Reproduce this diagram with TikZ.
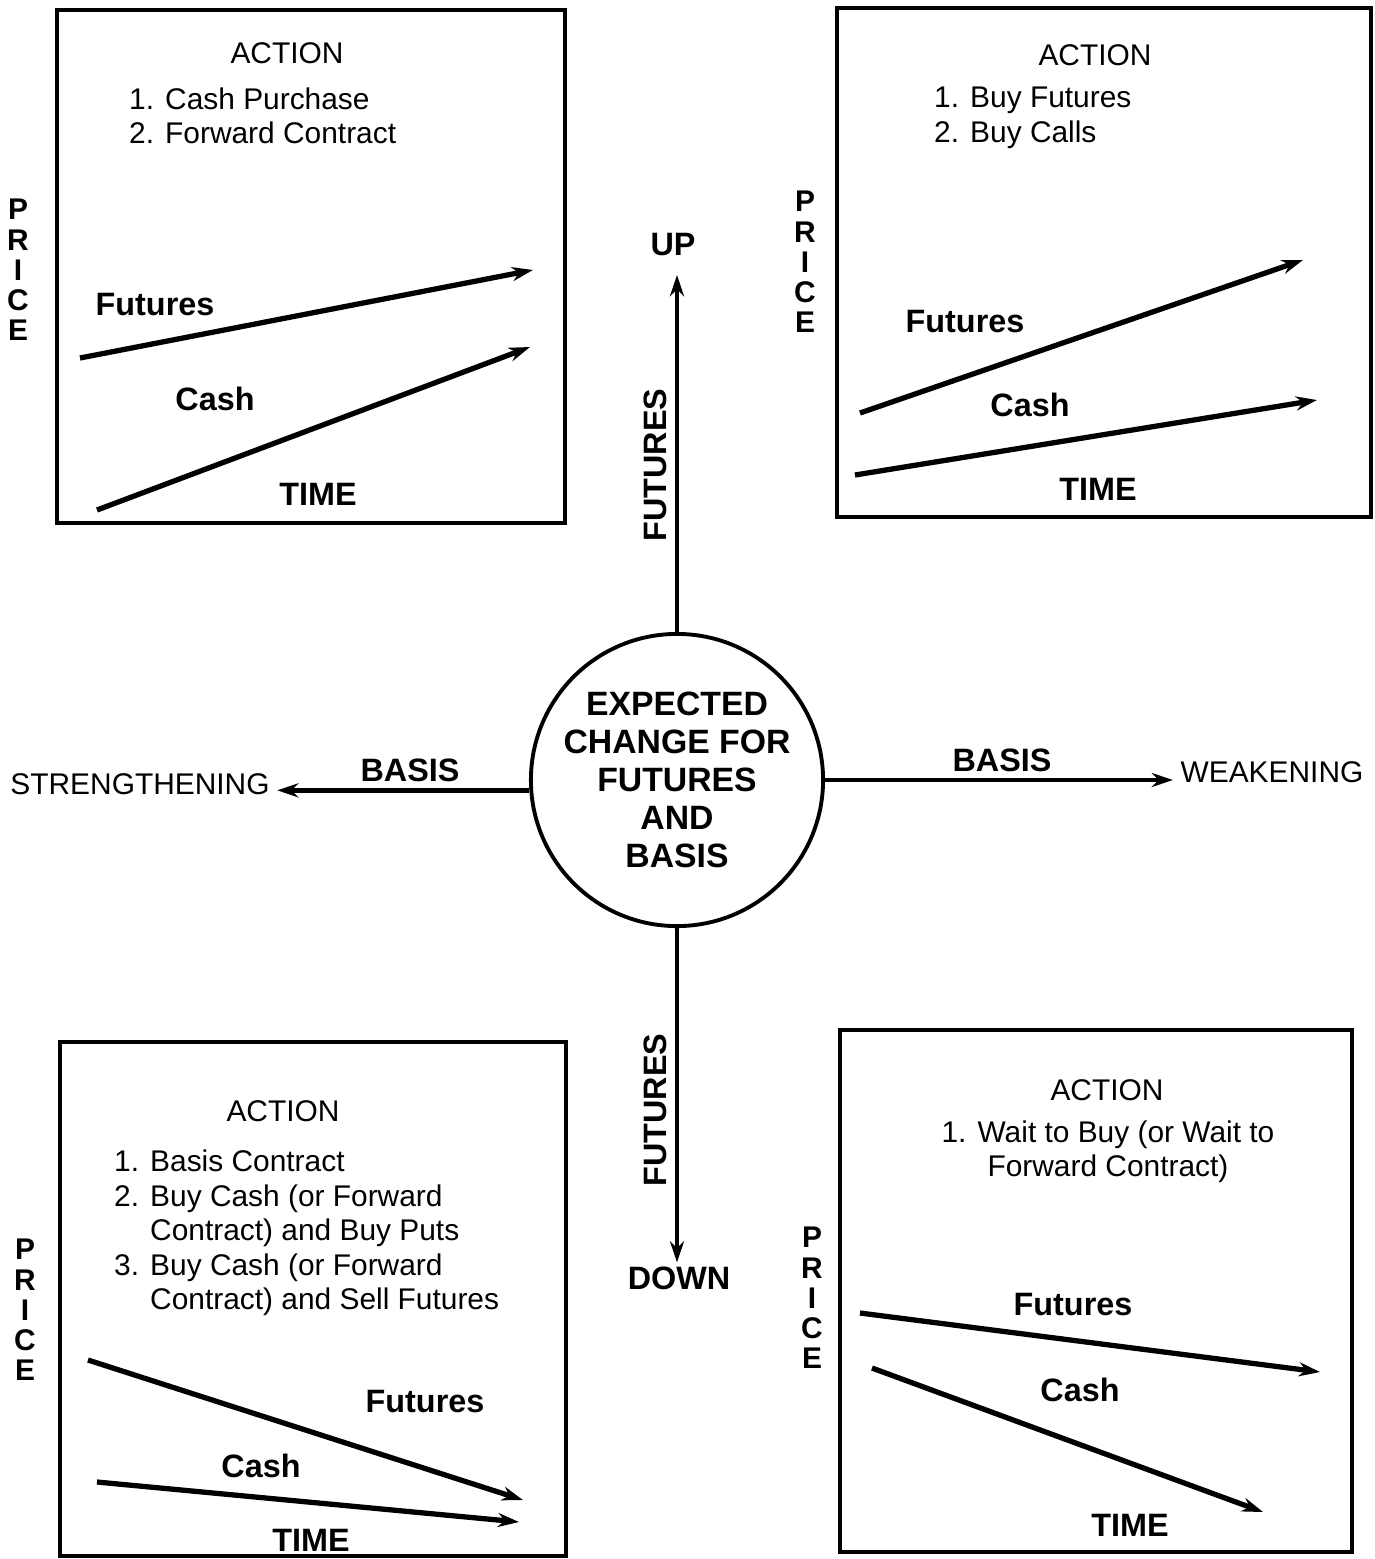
\documentclass[tikz,border=0pt]{standalone}
\usepackage{fontspec}
\setmainfont{Liberation Sans}
\usetikzlibrary{positioning,arrows.meta}

\begin{document}
\begin{tikzpicture}[
  x=0.01cm,
  y=-0.01cm,
  font=\fontsize{8.5}{9.8}\selectfont,
  panel/.style={draw, line width=1.1pt},
  hdr/.style={inner sep=1pt},
  list/.style={align=left, inner sep=1pt},
  lbl/.style={font=\fontsize{9.2}{11}\selectfont\bfseries, inner sep=1pt},
  price/.style={font=\fontsize{8.5}{8.6}\selectfont\bfseries, align=center, inner sep=1pt},
  hub/.style={circle, draw, line width=1.1pt, minimum size=2.92cm, inner sep=0pt, align=center,
    font=\fontsize{9.6}{10.8}\selectfont\bfseries},
  trend/.style={-{Stealth[length=6pt,width=4pt]}, line width=1.5pt},
  arr/.style={-{Stealth[length=6pt,width=4pt]}, line width=1.3pt}
]
\useasboundingbox (0,0) rectangle (1375,1559);

% four panels
\draw[panel] (57,10) rectangle (565,523);
\draw[panel] (837,8) rectangle (1371,517);
\draw[panel] (60,1042) rectangle (566,1556);
\draw[panel] (840,1030) rectangle (1352,1552);

% centre and axes
\node[hub] (hub) at (677,780) {EXPECTED\\CHANGE FOR\\FUTURES\\AND\\BASIS};

\node[lbl] (up) at (673,245) {UP};
\node[lbl] (down) at (679,1278) {DOWN};
\node[inner sep=2pt] (strength) at (140,784) {STRENGTHENING};
\node[inner sep=2pt] (weak) at (1272,772) {WEAKENING};

\draw[arr] (hub.north) -- (hub.north |- 0,275);
\draw[arr] (hub.south) -- (hub.south |- down.north);
\draw[arr] (hub.184) -- (hub.184 -| strength.east);
\draw[arr] (hub.east) -- (hub.east -| weak.west);

\node[lbl, rotate=90] (futUp) at (655,465) {FUTURES};
\node[lbl, rotate=90] (futDown) at (655,1110) {FUTURES};
\node[lbl] (basisL) at (410,770) {BASIS};
\node[lbl] (basisR) at (1002,760) {BASIS};

% upper left: futures up, basis strengthening
\node[hdr] (actTL) at (287,53) {ACTION};
\node[list, anchor=west] (listTL) at (125,116) {1. Cash Purchase\\2. Forward Contract};
\node[price] (priceTL) at (18,270) {P\\R\\I\\C\\E};
\coordinate (tlF1) at (80,358);
\coordinate (tlF2) at (533,270);
\coordinate (tlC1) at (97,510);
\coordinate (tlC2) at (530,347);
\draw[trend] (tlF1) -- (tlF2);
\draw[trend] (tlC1) -- (tlC2);
\node[lbl] (futTL) at (155,305) {Futures};
\node[lbl] (cashTL) at (215,399) {Cash};
\node[lbl] (timeTL) at (318,494) {TIME};

% upper right: futures up, basis weakening
\node[hdr] (actTR) at (1095,55) {ACTION};
\node[list, anchor=west] (listTR) at (930,118) {1. Buy Futures\\2. Buy Calls};
\node[price] (priceTR) at (805,262) {P\\R\\I\\C\\E};
\coordinate (trF1) at (860,413);
\coordinate (trF2) at (1303,260);
\coordinate (trC1) at (855,475);
\coordinate (trC2) at (1317,400);
\draw[trend] (trF1) -- (trF2);
\draw[trend] (trC1) -- (trC2);
\node[lbl] (futTR) at (965,322) {Futures};
\node[lbl] (cashTR) at (1030,405) {Cash};
\node[lbl] (timeTR) at (1098,489) {TIME};

% lower left: futures down, basis strengthening
\node[hdr] (actBL) at (283,1111) {ACTION};
\node[list, anchor=north west] (listBL) at (110,1146) {1. Basis Contract\\2. Buy Cash (or Forward\\\phantom{2. }Contract) and Buy Puts\\3. Buy Cash (or Forward\\\phantom{3. }Contract) and Sell Futures};
\node[price] (priceBL) at (25,1310) {P\\R\\I\\C\\E};
\coordinate (blF1) at (88,1360);
\coordinate (blF2) at (523,1500);
\coordinate (blC1) at (97,1482);
\coordinate (blC2) at (519,1522);
\draw[trend] (blF1) -- (blF2);
\draw[trend] (blC1) -- (blC2);
\node[lbl] (futBL) at (425,1402) {Futures};
\node[lbl] (cashBL) at (261,1466) {Cash};
\node[lbl] (timeBL) at (311,1540) {TIME};

% lower right: futures down, basis weakening
\node[hdr] (actBR) at (1107,1090) {ACTION};
\node[list, align=center] (listBR) at (1108,1152) {1. Wait to Buy (or Wait to\\Forward Contract)};
\node[price] (priceBR) at (812,1298) {P\\R\\I\\C\\E};
\coordinate (brF1) at (860,1313);
\coordinate (brF2) at (1320,1372);
\coordinate (brC1) at (872,1368);
\coordinate (brC2) at (1263,1512);
\draw[trend] (brF1) -- (brF2);
\draw[trend] (brC1) -- (brC2);
\node[lbl] (futBR) at (1073,1305) {Futures};
\node[lbl] (cashBR) at (1080,1390) {Cash};
\node[lbl] (timeBR) at (1130,1525) {TIME};

\end{tikzpicture}
\end{document}
